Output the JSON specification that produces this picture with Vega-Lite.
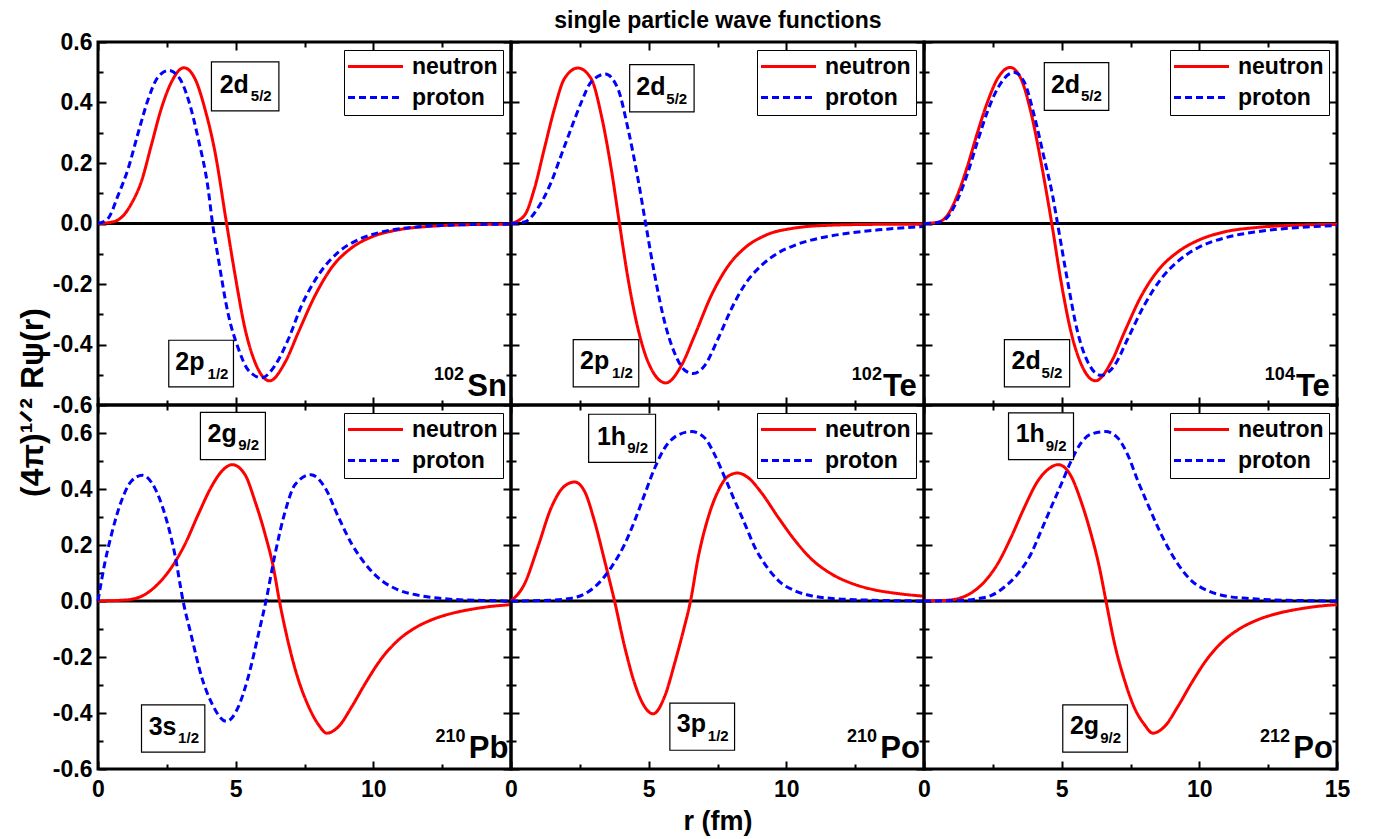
{
"$schema": "https://vega.github.io/schema/vega-lite/v6.json",
"background": "white",
"autosize": {"type": "pad"},
"padding": {"left": 14, "top": 9, "right": 5, "bottom": 5},
"title": {"text": "single particle wave functions", "fontSize": 23, "font": "Liberation Sans", "fontWeight": "bold", "color": "black", "anchor": "middle", "frame": "bounds", "offset": -3, "dx": 35},
"config": {
  "font": "Liberation Sans",
  "view": {"stroke": "black", "strokeWidth": 3},
  "axis": {"labelFont": "Liberation Sans", "labelFontWeight": "bold", "labelFontSize": 23, "labelColor": "black", "tickColor": "black", "tickWidth": 2, "domain": false, "grid": false, "minExtent": 0, "titleFont": "Liberation Sans", "titleFontWeight": "bold", "titleColor": "black", "labelFlush": false, "labelOverlap": false, "labelBound": false},
  "legend": {"orient": "top-right", "offset": 8, "title": null, "strokeColor": "black", "fillColor": "white", "padding": 5, "symbolType": "M-5.5,0H5.5", "symbolSize": 100, "symbolOffset": 15, "symbolStrokeWidth": 3, "labelFont": "Liberation Sans", "labelFontWeight": "bold", "labelFontSize": 23, "labelColor": "black", "labelOffset": 25, "rowPadding": 7}
},
"datasets": {
"curves": [
{"p":"Sn102","s":"neutron","r":0,"v":0},{"p":"Sn102","s":"neutron","r":0.4,"v":0.003},{"p":"Sn102","s":"neutron","r":0.73,"v":0.012},{"p":"Sn102","s":"neutron","r":1.0,"v":0.035},{"p":"Sn102","s":"neutron","r":1.21,"v":0.065},{"p":"Sn102","s":"neutron","r":1.58,"v":0.14},{"p":"Sn102","s":"neutron","r":1.94,"v":0.26},{"p":"Sn102","s":"neutron","r":2.3,"v":0.38},{"p":"Sn102","s":"neutron","r":2.67,"v":0.468},{"p":"Sn102","s":"neutron","r":3.12,"v":0.515},{"p":"Sn102","s":"neutron","r":3.52,"v":0.479},{"p":"Sn102","s":"neutron","r":3.88,"v":0.38},{"p":"Sn102","s":"neutron","r":4.25,"v":0.236},{"p":"Sn102","s":"neutron","r":4.67,"v":0},{"p":"Sn102","s":"neutron","r":4.98,"v":-0.171},{"p":"Sn102","s":"neutron","r":5.34,"v":-0.348},{"p":"Sn102","s":"neutron","r":5.7,"v":-0.458},{"p":"Sn102","s":"neutron","r":6.23,"v":-0.52},{"p":"Sn102","s":"neutron","r":6.8,"v":-0.458},{"p":"Sn102","s":"neutron","r":7.28,"v":-0.359},{"p":"Sn102","s":"neutron","r":7.89,"v":-0.237},{"p":"Sn102","s":"neutron","r":8.5,"v":-0.144},{"p":"Sn102","s":"neutron","r":9.22,"v":-0.08},{"p":"Sn102","s":"neutron","r":9.95,"v":-0.044},{"p":"Sn102","s":"neutron","r":10.9,"v":-0.021},{"p":"Sn102","s":"neutron","r":12.1,"v":-0.009},{"p":"Sn102","s":"neutron","r":13.35,"v":-0.004},{"p":"Sn102","s":"neutron","r":15,"v":-0.002},
{"p":"Sn102","s":"proton","r":0,"v":0},{"p":"Sn102","s":"proton","r":0.36,"v":0.016},{"p":"Sn102","s":"proton","r":0.73,"v":0.093},{"p":"Sn102","s":"proton","r":1.09,"v":0.18},{"p":"Sn102","s":"proton","r":1.46,"v":0.3},{"p":"Sn102","s":"proton","r":1.82,"v":0.41},{"p":"Sn102","s":"proton","r":2.18,"v":0.484},{"p":"Sn102","s":"proton","r":2.58,"v":0.506},{"p":"Sn102","s":"proton","r":2.97,"v":0.479},{"p":"Sn102","s":"proton","r":3.28,"v":0.41},{"p":"Sn102","s":"proton","r":3.64,"v":0.28},{"p":"Sn102","s":"proton","r":4.0,"v":0.115},{"p":"Sn102","s":"proton","r":4.16,"v":0},{"p":"Sn102","s":"proton","r":4.37,"v":-0.116},{"p":"Sn102","s":"proton","r":4.73,"v":-0.3},{"p":"Sn102","s":"proton","r":5.1,"v":-0.414},{"p":"Sn102","s":"proton","r":5.46,"v":-0.485},{"p":"Sn102","s":"proton","r":5.95,"v":-0.51},{"p":"Sn102","s":"proton","r":6.43,"v":-0.469},{"p":"Sn102","s":"proton","r":6.92,"v":-0.381},{"p":"Sn102","s":"proton","r":7.4,"v":-0.27},{"p":"Sn102","s":"proton","r":8.0,"v":-0.171},{"p":"Sn102","s":"proton","r":8.74,"v":-0.094},{"p":"Sn102","s":"proton","r":9.47,"v":-0.053},{"p":"Sn102","s":"proton","r":10.3,"v":-0.028},{"p":"Sn102","s":"proton","r":11.5,"v":-0.012},{"p":"Sn102","s":"proton","r":13.35,"v":-0.004},{"p":"Sn102","s":"proton","r":15,"v":-0.002},
{"p":"Te102","s":"neutron","r":0,"v":0},{"p":"Te102","s":"neutron","r":0.49,"v":0.027},{"p":"Te102","s":"neutron","r":0.85,"v":0.115},{"p":"Te102","s":"neutron","r":1.21,"v":0.247},{"p":"Te102","s":"neutron","r":1.58,"v":0.38},{"p":"Te102","s":"neutron","r":1.94,"v":0.479},{"p":"Te102","s":"neutron","r":2.43,"v":0.514},{"p":"Te102","s":"neutron","r":2.91,"v":0.479},{"p":"Te102","s":"neutron","r":3.28,"v":0.358},{"p":"Te102","s":"neutron","r":3.64,"v":0.181},{"p":"Te102","s":"neutron","r":3.94,"v":0},{"p":"Te102","s":"neutron","r":4.25,"v":-0.182},{"p":"Te102","s":"neutron","r":4.61,"v":-0.347},{"p":"Te102","s":"neutron","r":4.98,"v":-0.458},{"p":"Te102","s":"neutron","r":5.62,"v":-0.527},{"p":"Te102","s":"neutron","r":6.19,"v":-0.469},{"p":"Te102","s":"neutron","r":6.67,"v":-0.37},{"p":"Te102","s":"neutron","r":7.28,"v":-0.237},{"p":"Te102","s":"neutron","r":7.89,"v":-0.14},{"p":"Te102","s":"neutron","r":8.5,"v":-0.08},{"p":"Te102","s":"neutron","r":9.22,"v":-0.04},{"p":"Te102","s":"neutron","r":10.3,"v":-0.015},{"p":"Te102","s":"neutron","r":11.5,"v":-0.006},{"p":"Te102","s":"neutron","r":13,"v":-0.003},{"p":"Te102","s":"neutron","r":15,"v":-0.002},
{"p":"Te102","s":"proton","r":0,"v":0},{"p":"Te102","s":"proton","r":0.49,"v":0.005},{"p":"Te102","s":"proton","r":0.97,"v":0.05},{"p":"Te102","s":"proton","r":1.46,"v":0.137},{"p":"Te102","s":"proton","r":1.82,"v":0.225},{"p":"Te102","s":"proton","r":2.18,"v":0.313},{"p":"Te102","s":"proton","r":2.55,"v":0.4},{"p":"Te102","s":"proton","r":2.91,"v":0.468},{"p":"Te102","s":"proton","r":3.43,"v":0.494},{"p":"Te102","s":"proton","r":3.88,"v":0.446},{"p":"Te102","s":"proton","r":4.25,"v":0.313},{"p":"Te102","s":"proton","r":4.61,"v":0.148},{"p":"Te102","s":"proton","r":4.89,"v":0},{"p":"Te102","s":"proton","r":5.22,"v":-0.171},{"p":"Te102","s":"proton","r":5.58,"v":-0.326},{"p":"Te102","s":"proton","r":5.95,"v":-0.43},{"p":"Te102","s":"proton","r":6.31,"v":-0.485},{"p":"Te102","s":"proton","r":6.61,"v":-0.496},{"p":"Te102","s":"proton","r":7.04,"v":-0.469},{"p":"Te102","s":"proton","r":7.52,"v":-0.381},{"p":"Te102","s":"proton","r":8.01,"v":-0.281},{"p":"Te102","s":"proton","r":8.5,"v":-0.201},{"p":"Te102","s":"proton","r":9.1,"v":-0.138},{"p":"Te102","s":"proton","r":9.71,"v":-0.097},{"p":"Te102","s":"proton","r":10.3,"v":-0.072},{"p":"Te102","s":"proton","r":10.9,"v":-0.055},{"p":"Te102","s":"proton","r":11.5,"v":-0.043},{"p":"Te102","s":"proton","r":12.1,"v":-0.034},{"p":"Te102","s":"proton","r":13.35,"v":-0.021},{"p":"Te102","s":"proton","r":15,"v":-0.01},
{"p":"Te104","s":"neutron","r":0,"v":0},{"p":"Te104","s":"neutron","r":0.49,"v":0.004},{"p":"Te104","s":"neutron","r":0.85,"v":0.027},{"p":"Te104","s":"neutron","r":1.21,"v":0.093},{"p":"Te104","s":"neutron","r":1.58,"v":0.19},{"p":"Te104","s":"neutron","r":1.94,"v":0.3},{"p":"Te104","s":"neutron","r":2.3,"v":0.4},{"p":"Te104","s":"neutron","r":2.67,"v":0.479},{"p":"Te104","s":"neutron","r":3.13,"v":0.516},{"p":"Te104","s":"neutron","r":3.52,"v":0.479},{"p":"Te104","s":"neutron","r":3.88,"v":0.369},{"p":"Te104","s":"neutron","r":4.25,"v":0.203},{"p":"Te104","s":"neutron","r":4.64,"v":0},{"p":"Te104","s":"neutron","r":4.98,"v":-0.193},{"p":"Te104","s":"neutron","r":5.34,"v":-0.359},{"p":"Te104","s":"neutron","r":5.7,"v":-0.463},{"p":"Te104","s":"neutron","r":6.23,"v":-0.52},{"p":"Te104","s":"neutron","r":6.8,"v":-0.458},{"p":"Te104","s":"neutron","r":7.28,"v":-0.359},{"p":"Te104","s":"neutron","r":7.89,"v":-0.24},{"p":"Te104","s":"neutron","r":8.5,"v":-0.155},{"p":"Te104","s":"neutron","r":9.22,"v":-0.094},{"p":"Te104","s":"neutron","r":9.95,"v":-0.056},{"p":"Te104","s":"neutron","r":10.9,"v":-0.028},{"p":"Te104","s":"neutron","r":12.1,"v":-0.013},{"p":"Te104","s":"neutron","r":13.35,"v":-0.006},{"p":"Te104","s":"neutron","r":15,"v":-0.003},
{"p":"Te104","s":"proton","r":0,"v":0},{"p":"Te104","s":"proton","r":0.49,"v":0.003},{"p":"Te104","s":"proton","r":0.85,"v":0.021},{"p":"Te104","s":"proton","r":1.21,"v":0.077},{"p":"Te104","s":"proton","r":1.58,"v":0.165},{"p":"Te104","s":"proton","r":1.94,"v":0.27},{"p":"Te104","s":"proton","r":2.3,"v":0.369},{"p":"Te104","s":"proton","r":2.67,"v":0.446},{"p":"Te104","s":"proton","r":3.03,"v":0.49},{"p":"Te104","s":"proton","r":3.28,"v":0.499},{"p":"Te104","s":"proton","r":3.64,"v":0.468},{"p":"Te104","s":"proton","r":4.0,"v":0.358},{"p":"Te104","s":"proton","r":4.37,"v":0.214},{"p":"Te104","s":"proton","r":4.67,"v":0.093},{"p":"Te104","s":"proton","r":4.85,"v":0},{"p":"Te104","s":"proton","r":5.22,"v":-0.193},{"p":"Te104","s":"proton","r":5.58,"v":-0.359},{"p":"Te104","s":"proton","r":5.95,"v":-0.458},{"p":"Te104","s":"proton","r":6.43,"v":-0.502},{"p":"Te104","s":"proton","r":6.92,"v":-0.469},{"p":"Te104","s":"proton","r":7.4,"v":-0.381},{"p":"Te104","s":"proton","r":8.0,"v":-0.27},{"p":"Te104","s":"proton","r":8.62,"v":-0.182},{"p":"Te104","s":"proton","r":9.22,"v":-0.125},{"p":"Te104","s":"proton","r":9.95,"v":-0.08},{"p":"Te104","s":"proton","r":10.9,"v":-0.048},{"p":"Te104","s":"proton","r":12.1,"v":-0.027},{"p":"Te104","s":"proton","r":13.35,"v":-0.015},{"p":"Te104","s":"proton","r":15,"v":-0.007},
{"p":"Pb210","s":"neutron","r":0,"v":0},{"p":"Pb210","s":"neutron","r":0.73,"v":0.002},{"p":"Pb210","s":"neutron","r":1.21,"v":0.006},{"p":"Pb210","s":"neutron","r":1.7,"v":0.023},{"p":"Pb210","s":"neutron","r":2.18,"v":0.061},{"p":"Pb210","s":"neutron","r":2.67,"v":0.12},{"p":"Pb210","s":"neutron","r":3.16,"v":0.203},{"p":"Pb210","s":"neutron","r":3.64,"v":0.309},{"p":"Pb210","s":"neutron","r":4.13,"v":0.41},{"p":"Pb210","s":"neutron","r":4.49,"v":0.463},{"p":"Pb210","s":"neutron","r":4.88,"v":0.487},{"p":"Pb210","s":"neutron","r":5.34,"v":0.451},{"p":"Pb210","s":"neutron","r":5.7,"v":0.357},{"p":"Pb210","s":"neutron","r":6.07,"v":0.238},{"p":"Pb210","s":"neutron","r":6.37,"v":0.12},{"p":"Pb210","s":"neutron","r":6.59,"v":0},{"p":"Pb210","s":"neutron","r":6.92,"v":-0.152},{"p":"Pb210","s":"neutron","r":7.28,"v":-0.282},{"p":"Pb210","s":"neutron","r":7.65,"v":-0.377},{"p":"Pb210","s":"neutron","r":8.01,"v":-0.442},{"p":"Pb210","s":"neutron","r":8.31,"v":-0.472},{"p":"Pb210","s":"neutron","r":8.74,"v":-0.448},{"p":"Pb210","s":"neutron","r":9.22,"v":-0.377},{"p":"Pb210","s":"neutron","r":9.71,"v":-0.294},{"p":"Pb210","s":"neutron","r":10.3,"v":-0.205},{"p":"Pb210","s":"neutron","r":10.9,"v":-0.14},{"p":"Pb210","s":"neutron","r":11.5,"v":-0.097},{"p":"Pb210","s":"neutron","r":12.1,"v":-0.068},{"p":"Pb210","s":"neutron","r":12.9,"v":-0.043},{"p":"Pb210","s":"neutron","r":13.6,"v":-0.029},{"p":"Pb210","s":"neutron","r":14.3,"v":-0.019},{"p":"Pb210","s":"neutron","r":15,"v":-0.013},
{"p":"Pb210","s":"proton","r":0,"v":0},{"p":"Pb210","s":"proton","r":0.24,"v":0.132},{"p":"Pb210","s":"proton","r":0.49,"v":0.238},{"p":"Pb210","s":"proton","r":0.85,"v":0.357},{"p":"Pb210","s":"proton","r":1.21,"v":0.428},{"p":"Pb210","s":"proton","r":1.61,"v":0.449},{"p":"Pb210","s":"proton","r":2.06,"v":0.404},{"p":"Pb210","s":"proton","r":2.43,"v":0.309},{"p":"Pb210","s":"proton","r":2.79,"v":0.167},{"p":"Pb210","s":"proton","r":3.09,"v":0},{"p":"Pb210","s":"proton","r":3.4,"v":-0.128},{"p":"Pb210","s":"proton","r":3.76,"v":-0.27},{"p":"Pb210","s":"proton","r":4.13,"v":-0.365},{"p":"Pb210","s":"proton","r":4.67,"v":-0.43},{"p":"Pb210","s":"proton","r":5.1,"v":-0.377},{"p":"Pb210","s":"proton","r":5.46,"v":-0.27},{"p":"Pb210","s":"proton","r":5.83,"v":-0.117},{"p":"Pb210","s":"proton","r":6.1,"v":0},{"p":"Pb210","s":"proton","r":6.43,"v":0.167},{"p":"Pb210","s":"proton","r":6.8,"v":0.321},{"p":"Pb210","s":"proton","r":7.16,"v":0.416},{"p":"Pb210","s":"proton","r":7.73,"v":0.451},{"p":"Pb210","s":"proton","r":8.25,"v":0.404},{"p":"Pb210","s":"proton","r":8.74,"v":0.298},{"p":"Pb210","s":"proton","r":9.22,"v":0.203},{"p":"Pb210","s":"proton","r":9.71,"v":0.132},{"p":"Pb210","s":"proton","r":10.3,"v":0.073},{"p":"Pb210","s":"proton","r":10.9,"v":0.04},{"p":"Pb210","s":"proton","r":11.65,"v":0.02},{"p":"Pb210","s":"proton","r":12.7,"v":0.007},{"p":"Pb210","s":"proton","r":13.95,"v":0.002},{"p":"Pb210","s":"proton","r":15,"v":0},
{"p":"Po210","s":"neutron","r":0,"v":0},{"p":"Po210","s":"neutron","r":0.49,"v":0.061},{"p":"Po210","s":"neutron","r":0.97,"v":0.191},{"p":"Po210","s":"neutron","r":1.46,"v":0.333},{"p":"Po210","s":"neutron","r":1.94,"v":0.41},{"p":"Po210","s":"neutron","r":2.31,"v":0.425},{"p":"Po210","s":"neutron","r":2.67,"v":0.392},{"p":"Po210","s":"neutron","r":3.03,"v":0.286},{"p":"Po210","s":"neutron","r":3.4,"v":0.144},{"p":"Po210","s":"neutron","r":3.76,"v":0},{"p":"Po210","s":"neutron","r":4.13,"v":-0.164},{"p":"Po210","s":"neutron","r":4.49,"v":-0.294},{"p":"Po210","s":"neutron","r":4.85,"v":-0.377},{"p":"Po210","s":"neutron","r":5.16,"v":-0.403},{"p":"Po210","s":"neutron","r":5.58,"v":-0.341},{"p":"Po210","s":"neutron","r":5.95,"v":-0.22},{"p":"Po210","s":"neutron","r":6.25,"v":-0.11},{"p":"Po210","s":"neutron","r":6.52,"v":0},{"p":"Po210","s":"neutron","r":6.8,"v":0.156},{"p":"Po210","s":"neutron","r":7.16,"v":0.298},{"p":"Po210","s":"neutron","r":7.52,"v":0.392},{"p":"Po210","s":"neutron","r":7.89,"v":0.446},{"p":"Po210","s":"neutron","r":8.23,"v":0.457},{"p":"Po210","s":"neutron","r":8.62,"v":0.44},{"p":"Po210","s":"neutron","r":9.1,"v":0.386},{"p":"Po210","s":"neutron","r":9.71,"v":0.298},{"p":"Po210","s":"neutron","r":10.3,"v":0.218},{"p":"Po210","s":"neutron","r":10.9,"v":0.151},{"p":"Po210","s":"neutron","r":11.65,"v":0.096},{"p":"Po210","s":"neutron","r":12.4,"v":0.062},{"p":"Po210","s":"neutron","r":13.1,"v":0.042},{"p":"Po210","s":"neutron","r":14.1,"v":0.026},{"p":"Po210","s":"neutron","r":15,"v":0.017},
{"p":"Po210","s":"proton","r":0,"v":0},{"p":"Po210","s":"proton","r":1.21,"v":0.002},{"p":"Po210","s":"proton","r":2.06,"v":0.008},{"p":"Po210","s":"proton","r":2.67,"v":0.025},{"p":"Po210","s":"proton","r":3.16,"v":0.061},{"p":"Po210","s":"proton","r":3.64,"v":0.12},{"p":"Po210","s":"proton","r":4.13,"v":0.203},{"p":"Po210","s":"proton","r":4.49,"v":0.286},{"p":"Po210","s":"proton","r":4.85,"v":0.38},{"p":"Po210","s":"proton","r":5.22,"v":0.475},{"p":"Po210","s":"proton","r":5.58,"v":0.546},{"p":"Po210","s":"proton","r":6.07,"v":0.593},{"p":"Po210","s":"proton","r":6.55,"v":0.605},{"p":"Po210","s":"proton","r":7.04,"v":0.582},{"p":"Po210","s":"proton","r":7.4,"v":0.522},{"p":"Po210","s":"proton","r":7.77,"v":0.44},{"p":"Po210","s":"proton","r":8.13,"v":0.357},{"p":"Po210","s":"proton","r":8.5,"v":0.274},{"p":"Po210","s":"proton","r":8.86,"v":0.191},{"p":"Po210","s":"proton","r":9.22,"v":0.132},{"p":"Po210","s":"proton","r":9.71,"v":0.073},{"p":"Po210","s":"proton","r":10.3,"v":0.037},{"p":"Po210","s":"proton","r":10.9,"v":0.019},{"p":"Po210","s":"proton","r":11.8,"v":0.008},{"p":"Po210","s":"proton","r":12.7,"v":0.004},{"p":"Po210","s":"proton","r":15,"v":0},
{"p":"Po212","s":"neutron","r":0,"v":0},{"p":"Po212","s":"neutron","r":0.73,"v":0.002},{"p":"Po212","s":"neutron","r":1.21,"v":0.008},{"p":"Po212","s":"neutron","r":1.7,"v":0.028},{"p":"Po212","s":"neutron","r":2.18,"v":0.067},{"p":"Po212","s":"neutron","r":2.67,"v":0.132},{"p":"Po212","s":"neutron","r":3.16,"v":0.227},{"p":"Po212","s":"neutron","r":3.64,"v":0.333},{"p":"Po212","s":"neutron","r":4.13,"v":0.428},{"p":"Po212","s":"neutron","r":4.49,"v":0.469},{"p":"Po212","s":"neutron","r":4.88,"v":0.487},{"p":"Po212","s":"neutron","r":5.34,"v":0.446},{"p":"Po212","s":"neutron","r":5.7,"v":0.357},{"p":"Po212","s":"neutron","r":6.07,"v":0.238},{"p":"Po212","s":"neutron","r":6.37,"v":0.12},{"p":"Po212","s":"neutron","r":6.61,"v":0},{"p":"Po212","s":"neutron","r":6.92,"v":-0.152},{"p":"Po212","s":"neutron","r":7.28,"v":-0.282},{"p":"Po212","s":"neutron","r":7.65,"v":-0.383},{"p":"Po212","s":"neutron","r":8.01,"v":-0.442},{"p":"Po212","s":"neutron","r":8.31,"v":-0.472},{"p":"Po212","s":"neutron","r":8.74,"v":-0.448},{"p":"Po212","s":"neutron","r":9.22,"v":-0.377},{"p":"Po212","s":"neutron","r":9.71,"v":-0.294},{"p":"Po212","s":"neutron","r":10.3,"v":-0.205},{"p":"Po212","s":"neutron","r":10.9,"v":-0.14},{"p":"Po212","s":"neutron","r":11.5,"v":-0.097},{"p":"Po212","s":"neutron","r":12.1,"v":-0.068},{"p":"Po212","s":"neutron","r":12.9,"v":-0.043},{"p":"Po212","s":"neutron","r":13.6,"v":-0.029},{"p":"Po212","s":"neutron","r":14.3,"v":-0.019},{"p":"Po212","s":"neutron","r":15,"v":-0.013},
{"p":"Po212","s":"proton","r":0,"v":0},{"p":"Po212","s":"proton","r":1.21,"v":0.002},{"p":"Po212","s":"proton","r":1.94,"v":0.008},{"p":"Po212","s":"proton","r":2.43,"v":0.019},{"p":"Po212","s":"proton","r":2.91,"v":0.049},{"p":"Po212","s":"proton","r":3.4,"v":0.096},{"p":"Po212","s":"proton","r":3.88,"v":0.167},{"p":"Po212","s":"proton","r":4.25,"v":0.25},{"p":"Po212","s":"proton","r":4.61,"v":0.333},{"p":"Po212","s":"proton","r":4.98,"v":0.416},{"p":"Po212","s":"proton","r":5.34,"v":0.499},{"p":"Po212","s":"proton","r":5.7,"v":0.564},{"p":"Po212","s":"proton","r":6.07,"v":0.596},{"p":"Po212","s":"proton","r":6.59,"v":0.605},{"p":"Po212","s":"proton","r":7.04,"v":0.582},{"p":"Po212","s":"proton","r":7.4,"v":0.522},{"p":"Po212","s":"proton","r":7.77,"v":0.428},{"p":"Po212","s":"proton","r":8.13,"v":0.345},{"p":"Po212","s":"proton","r":8.5,"v":0.262},{"p":"Po212","s":"proton","r":8.86,"v":0.191},{"p":"Po212","s":"proton","r":9.22,"v":0.132},{"p":"Po212","s":"proton","r":9.71,"v":0.073},{"p":"Po212","s":"proton","r":10.3,"v":0.037},{"p":"Po212","s":"proton","r":10.9,"v":0.019},{"p":"Po212","s":"proton","r":11.8,"v":0.009},{"p":"Po212","s":"proton","r":12.7,"v":0.004},{"p":"Po212","s":"proton","r":15,"v":0}
],
"boxes": [
{"p":"Sn102","r1":4.12,"r2":6.57,"v1":0.372,"v2":0.534},{"p":"Sn102","r1":2.57,"r2":4.92,"v1":-0.54,"v2":-0.386},
{"p":"Te102","r1":4.31,"r2":6.65,"v1":0.369,"v2":0.525},{"p":"Te102","r1":2.26,"r2":4.64,"v1":-0.54,"v2":-0.384},
{"p":"Te104","r1":4.37,"r2":6.71,"v1":0.374,"v2":0.532},{"p":"Te104","r1":2.92,"r2":5.29,"v1":-0.54,"v2":-0.384},
{"p":"Pb210","r1":3.72,"r2":6.08,"v1":0.505,"v2":0.674},{"p":"Pb210","r1":1.58,"r2":3.88,"v1":-0.54,"v2":-0.371},
{"p":"Po210","r1":2.82,"r2":5.25,"v1":0.495,"v2":0.667},{"p":"Po210","r1":5.77,"r2":8.12,"v1":-0.533,"v2":-0.365},
{"p":"Po212","r1":3.07,"r2":5.43,"v1":0.505,"v2":0.672},{"p":"Po212","r1":5.04,"r2":7.39,"v1":-0.54,"v2":-0.371}
],
"ann": [
{"p":"Sn102","k":"orb","t":"2d","r":4.42,"v":0.433},{"p":"Sn102","k":"sub","t":"5/2","r":5.55,"v":0.404},{"p":"Sn102","k":"orb","t":"2p","r":2.81,"v":-0.485},{"p":"Sn102","k":"sub","t":"1/2","r":3.98,"v":-0.513},{"p":"Sn102","k":"mass","t":"102","r":12.2,"v":-0.518},{"p":"Sn102","k":"nuc","t":"Sn","r":13.41,"v":-0.57},
{"p":"Te102","k":"orb","t":"2d","r":4.55,"v":0.426},{"p":"Te102","k":"sub","t":"5/2","r":5.64,"v":0.396},{"p":"Te102","k":"orb","t":"2p","r":2.51,"v":-0.482},{"p":"Te102","k":"sub","t":"1/2","r":3.67,"v":-0.511},{"p":"Te102","k":"mass","t":"102","r":12.38,"v":-0.518},{"p":"Te102","k":"nuc","t":"Te","r":13.51,"v":-0.57},
{"p":"Te104","k":"orb","t":"2d","r":4.61,"v":0.433},{"p":"Te104","k":"sub","t":"5/2","r":5.7,"v":0.404},{"p":"Te104","k":"orb","t":"2d","r":3.18,"v":-0.482},{"p":"Te104","k":"sub","t":"5/2","r":4.27,"v":-0.511},{"p":"Te104","k":"mass","t":"104","r":12.38,"v":-0.518},{"p":"Te104","k":"nuc","t":"Te","r":13.51,"v":-0.57},
{"p":"Pb210","k":"orb","t":"2g","r":3.98,"v":0.567},{"p":"Pb210","k":"sub","t":"9/2","r":5.09,"v":0.538},{"p":"Pb210","k":"orb","t":"3s","r":1.84,"v":-0.478},{"p":"Pb210","k":"sub","t":"1/2","r":2.91,"v":-0.507},{"p":"Pb210","k":"mass","t":"210","r":12.26,"v":-0.505},{"p":"Pb210","k":"nuc","t":"Pb","r":13.47,"v":-0.56},
{"p":"Po210","k":"orb","t":"1h","r":3.12,"v":0.558},{"p":"Po210","k":"sub","t":"9/2","r":4.22,"v":0.528},{"p":"Po210","k":"orb","t":"3p","r":6.02,"v":-0.469},{"p":"Po210","k":"sub","t":"1/2","r":7.15,"v":-0.501},{"p":"Po210","k":"mass","t":"210","r":12.2,"v":-0.505},{"p":"Po210","k":"nuc","t":"Po","r":13.41,"v":-0.56},
{"p":"Po212","k":"orb","t":"1h","r":3.33,"v":0.567},{"p":"Po212","k":"sub","t":"9/2","r":4.42,"v":0.537},{"p":"Po212","k":"orb","t":"2g","r":5.3,"v":-0.475},{"p":"Po212","k":"sub","t":"9/2","r":6.4,"v":-0.507},{"p":"Po212","k":"mass","t":"212","r":12.2,"v":-0.505},{"p":"Po212","k":"nuc","t":"Po","r":13.41,"v":-0.56}
]
},
"columns": 3,
"bounds": "flush",
"spacing": 0,
"resolve": {"legend": {"color": "independent", "strokeDash": "independent"}},
"concat": [
 {"width": 413, "height": 363, "resolve": {"axis": {"x": "independent", "y": "independent"}}, "layer": [
  {"data": {"values": [{}]}, "mark": {"type": "rule", "color": "black", "strokeWidth": 3}, "encoding": {"y": {"datum": 0, "type": "quantitative", "scale": {"domain": [-0.6, 0.6], "nice": false, "zero": false}, "axis": null}}},
  {"data": {"name": "curves"}, "transform": [{"filter": "datum.p == 'Sn102'"}], "mark": {"type": "line", "strokeWidth": 3, "interpolate": "monotone"}, "encoding": {
    "x": {"field": "r", "type": "quantitative", "scale": {"domain": [0, 15], "nice": false, "zero": false}, "axis": {"orient": "bottom", "values": [0, 2.5, 5, 7.5, 10, 12.5], "labels": false, "tickSize": {"condition": {"test": "datum.value % 5 == 0", "value": -8}, "value": -5}, "title": null}},
    "y": {"field": "v", "type": "quantitative", "scale": {"domain": [-0.6, 0.6], "nice": false, "zero": false}, "axis": {"orient": "left", "values": [-0.6, -0.5, -0.4, -0.3, -0.2, -0.1, 0, 0.1, 0.2, 0.3, 0.4, 0.5, 0.6], "labelExpr": "abs(round(datum.value*10)) % 2 == 0 ? replace(format(datum.value, '.1f'), '\u2212', '-') : ''", "tickSize": {"condition": {"test": "abs(round(datum.value*10)) % 2 == 0", "value": -8}, "value": -5}, "labelPadding": 14, "title": null}},
    "color": {"field": "s", "type": "nominal", "scale": {"domain": ["neutron", "proton"], "range": ["#ff0000", "#0000ff"]}},
    "strokeDash": {"field": "s", "type": "nominal", "scale": {"domain": ["neutron", "proton"], "range": [[1, 0], [7, 4]]}}}},
  {"data": {"name": "boxes"}, "transform": [{"filter": "datum.p == 'Sn102'"}], "mark": {"type": "rect", "fill": "white", "stroke": "black", "strokeWidth": 1.2}, "encoding": {
    "x": {"field": "r1", "type": "quantitative", "scale": {"domain": [0, 15], "nice": false, "zero": false}, "axis": {"orient": "top", "values": [0, 2.5, 5, 7.5, 10, 12.5], "labels": false, "tickSize": {"condition": {"test": "datum.value % 5 == 0", "value": -8}, "value": -5}, "title": null}},
    "x2": {"field": "r2"},
    "y": {"field": "v1", "type": "quantitative", "scale": {"domain": [-0.6, 0.6], "nice": false, "zero": false}, "axis": {"orient": "right", "values": [-0.6, -0.5, -0.4, -0.3, -0.2, -0.1, 0, 0.1, 0.2, 0.3, 0.4, 0.5, 0.6], "labels": false, "tickSize": {"condition": {"test": "abs(round(datum.value*10)) % 2 == 0", "value": -8}, "value": -5}, "title": null}},
    "y2": {"field": "v2"}}},
  {"data": {"name": "ann"}, "transform": [{"filter": "datum.p == 'Sn102'"}], "mark": {"type": "text", "align": "left", "baseline": "alphabetic", "font": "Liberation Sans", "fontWeight": "bold", "color": "black"}, "encoding": {
    "x": {"field": "r", "type": "quantitative", "scale": {"domain": [0, 15], "nice": false, "zero": false}, "axis": null},
    "y": {"field": "v", "type": "quantitative", "scale": {"domain": [-0.6, 0.6], "nice": false, "zero": false}, "axis": null},
    "text": {"field": "t"},
    "size": {"field": "k", "type": "nominal", "scale": {"type": "ordinal", "domain": ["orb", "sub", "mass", "nuc"], "range": [25, 15, 18, 31]}, "legend": null}}}
 ]},
 {"width": 413, "height": 363, "resolve": {"axis": {"x": "independent", "y": "independent"}}, "layer": [
  {"data": {"values": [{}]}, "mark": {"type": "rule", "color": "black", "strokeWidth": 3}, "encoding": {"y": {"datum": 0, "type": "quantitative", "scale": {"domain": [-0.6, 0.6], "nice": false, "zero": false}, "axis": null}}},
  {"data": {"name": "curves"}, "transform": [{"filter": "datum.p == 'Te102'"}], "mark": {"type": "line", "strokeWidth": 3, "interpolate": "monotone"}, "encoding": {
    "x": {"field": "r", "type": "quantitative", "scale": {"domain": [0, 15], "nice": false, "zero": false}, "axis": {"orient": "bottom", "values": [0, 2.5, 5, 7.5, 10, 12.5], "labels": false, "tickSize": {"condition": {"test": "datum.value % 5 == 0", "value": -8}, "value": -5}, "title": null}},
    "y": {"field": "v", "type": "quantitative", "scale": {"domain": [-0.6, 0.6], "nice": false, "zero": false}, "axis": {"orient": "left", "values": [-0.6, -0.5, -0.4, -0.3, -0.2, -0.1, 0, 0.1, 0.2, 0.3, 0.4, 0.5, 0.6], "labels": false, "tickSize": {"condition": {"test": "abs(round(datum.value*10)) % 2 == 0", "value": -8}, "value": -5}, "title": null}},
    "color": {"field": "s", "type": "nominal", "scale": {"domain": ["neutron", "proton"], "range": ["#ff0000", "#0000ff"]}},
    "strokeDash": {"field": "s", "type": "nominal", "scale": {"domain": ["neutron", "proton"], "range": [[1, 0], [7, 4]]}}}},
  {"data": {"name": "boxes"}, "transform": [{"filter": "datum.p == 'Te102'"}], "mark": {"type": "rect", "fill": "white", "stroke": "black", "strokeWidth": 1.2}, "encoding": {
    "x": {"field": "r1", "type": "quantitative", "scale": {"domain": [0, 15], "nice": false, "zero": false}, "axis": {"orient": "top", "values": [0, 2.5, 5, 7.5, 10, 12.5], "labels": false, "tickSize": {"condition": {"test": "datum.value % 5 == 0", "value": -8}, "value": -5}, "title": null}},
    "x2": {"field": "r2"},
    "y": {"field": "v1", "type": "quantitative", "scale": {"domain": [-0.6, 0.6], "nice": false, "zero": false}, "axis": {"orient": "right", "values": [-0.6, -0.5, -0.4, -0.3, -0.2, -0.1, 0, 0.1, 0.2, 0.3, 0.4, 0.5, 0.6], "labels": false, "tickSize": {"condition": {"test": "abs(round(datum.value*10)) % 2 == 0", "value": -8}, "value": -5}, "title": null}},
    "y2": {"field": "v2"}}},
  {"data": {"name": "ann"}, "transform": [{"filter": "datum.p == 'Te102'"}], "mark": {"type": "text", "align": "left", "baseline": "alphabetic", "font": "Liberation Sans", "fontWeight": "bold", "color": "black"}, "encoding": {
    "x": {"field": "r", "type": "quantitative", "scale": {"domain": [0, 15], "nice": false, "zero": false}, "axis": null},
    "y": {"field": "v", "type": "quantitative", "scale": {"domain": [-0.6, 0.6], "nice": false, "zero": false}, "axis": null},
    "text": {"field": "t"},
    "size": {"field": "k", "type": "nominal", "scale": {"type": "ordinal", "domain": ["orb", "sub", "mass", "nuc"], "range": [25, 15, 18, 31]}, "legend": null}}}
 ]},
 {"width": 413, "height": 363, "resolve": {"axis": {"x": "independent", "y": "independent"}}, "layer": [
  {"data": {"values": [{}]}, "mark": {"type": "rule", "color": "black", "strokeWidth": 3}, "encoding": {"y": {"datum": 0, "type": "quantitative", "scale": {"domain": [-0.6, 0.6], "nice": false, "zero": false}, "axis": null}}},
  {"data": {"name": "curves"}, "transform": [{"filter": "datum.p == 'Te104'"}], "mark": {"type": "line", "strokeWidth": 3, "interpolate": "monotone"}, "encoding": {
    "x": {"field": "r", "type": "quantitative", "scale": {"domain": [0, 15], "nice": false, "zero": false}, "axis": {"orient": "bottom", "values": [0, 2.5, 5, 7.5, 10, 12.5, 15], "labels": false, "tickSize": {"condition": {"test": "datum.value % 5 == 0", "value": -8}, "value": -5}, "title": null}},
    "y": {"field": "v", "type": "quantitative", "scale": {"domain": [-0.6, 0.6], "nice": false, "zero": false}, "axis": {"orient": "left", "values": [-0.6, -0.5, -0.4, -0.3, -0.2, -0.1, 0, 0.1, 0.2, 0.3, 0.4, 0.5, 0.6], "labels": false, "tickSize": {"condition": {"test": "abs(round(datum.value*10)) % 2 == 0", "value": -8}, "value": -5}, "title": null}},
    "color": {"field": "s", "type": "nominal", "scale": {"domain": ["neutron", "proton"], "range": ["#ff0000", "#0000ff"]}},
    "strokeDash": {"field": "s", "type": "nominal", "scale": {"domain": ["neutron", "proton"], "range": [[1, 0], [7, 4]]}}}},
  {"data": {"name": "boxes"}, "transform": [{"filter": "datum.p == 'Te104'"}], "mark": {"type": "rect", "fill": "white", "stroke": "black", "strokeWidth": 1.2}, "encoding": {
    "x": {"field": "r1", "type": "quantitative", "scale": {"domain": [0, 15], "nice": false, "zero": false}, "axis": {"orient": "top", "values": [0, 2.5, 5, 7.5, 10, 12.5], "labels": false, "tickSize": {"condition": {"test": "datum.value % 5 == 0", "value": -8}, "value": -5}, "title": null}},
    "x2": {"field": "r2"},
    "y": {"field": "v1", "type": "quantitative", "scale": {"domain": [-0.6, 0.6], "nice": false, "zero": false}, "axis": {"orient": "right", "values": [-0.6, -0.5, -0.4, -0.3, -0.2, -0.1, 0, 0.1, 0.2, 0.3, 0.4, 0.5, 0.6], "labels": false, "tickSize": {"condition": {"test": "abs(round(datum.value*10)) % 2 == 0", "value": -8}, "value": -5}, "title": null}},
    "y2": {"field": "v2"}}},
  {"data": {"name": "ann"}, "transform": [{"filter": "datum.p == 'Te104'"}], "mark": {"type": "text", "align": "left", "baseline": "alphabetic", "font": "Liberation Sans", "fontWeight": "bold", "color": "black"}, "encoding": {
    "x": {"field": "r", "type": "quantitative", "scale": {"domain": [0, 15], "nice": false, "zero": false}, "axis": null},
    "y": {"field": "v", "type": "quantitative", "scale": {"domain": [-0.6, 0.6], "nice": false, "zero": false}, "axis": null},
    "text": {"field": "t"},
    "size": {"field": "k", "type": "nominal", "scale": {"type": "ordinal", "domain": ["orb", "sub", "mass", "nuc"], "range": [25, 15, 18, 31]}, "legend": null}}}
 ]},
 {"width": 413, "height": 364, "resolve": {"axis": {"x": "independent", "y": "independent"}}, "layer": [
  {"data": {"values": [{}]}, "mark": {"type": "rule", "color": "black", "strokeWidth": 3}, "encoding": {"y": {"datum": 0, "type": "quantitative", "scale": {"domain": [-0.6, 0.7], "nice": false, "zero": false}, "axis": null}}},
  {"data": {"name": "curves"}, "transform": [{"filter": "datum.p == 'Pb210'"}], "mark": {"type": "line", "strokeWidth": 3, "interpolate": "monotone"}, "encoding": {
    "x": {"field": "r", "type": "quantitative", "scale": {"domain": [0, 15], "nice": false, "zero": false}, "axis": {"orient": "bottom", "values": [0, 2.5, 5, 7.5, 10, 12.5], "labelExpr": "datum.value % 5 == 0 ? format(datum.value, 'd') : ''", "tickSize": {"condition": {"test": "datum.value % 5 == 0", "value": -8}, "value": -5}, "labelPadding": 17, "title": null}},
    "y": {"field": "v", "type": "quantitative", "scale": {"domain": [-0.6, 0.7], "nice": false, "zero": false}, "axis": {"orient": "left", "values": [-0.6, -0.5, -0.4, -0.3, -0.2, -0.1, 0, 0.1, 0.2, 0.3, 0.4, 0.5, 0.6], "labelExpr": "abs(round(datum.value*10)) % 2 == 0 ? replace(format(datum.value, '.1f'), '\u2212', '-') : ''", "tickSize": {"condition": {"test": "abs(round(datum.value*10)) % 2 == 0", "value": -8}, "value": -5}, "labelPadding": 14, "title": "(4\u03c0)\u00b9\u141f\u00b2 R\u03c8(r)", "titleFontSize": 32, "titleX": -66, "titleY": -3, "titleAngle": -90, "titleAlign": "center", "titleBaseline": "middle"}},
    "color": {"field": "s", "type": "nominal", "scale": {"domain": ["neutron", "proton"], "range": ["#ff0000", "#0000ff"]}},
    "strokeDash": {"field": "s", "type": "nominal", "scale": {"domain": ["neutron", "proton"], "range": [[1, 0], [7, 4]]}}}},
  {"data": {"name": "boxes"}, "transform": [{"filter": "datum.p == 'Pb210'"}], "mark": {"type": "rect", "fill": "white", "stroke": "black", "strokeWidth": 1.2}, "encoding": {
    "x": {"field": "r1", "type": "quantitative", "scale": {"domain": [0, 15], "nice": false, "zero": false}, "axis": {"orient": "top", "values": [0, 2.5, 5, 7.5, 10, 12.5], "labels": false, "tickSize": {"condition": {"test": "datum.value % 5 == 0", "value": -8}, "value": -5}, "title": null}},
    "x2": {"field": "r2"},
    "y": {"field": "v1", "type": "quantitative", "scale": {"domain": [-0.6, 0.7], "nice": false, "zero": false}, "axis": {"orient": "right", "values": [-0.6, -0.5, -0.4, -0.3, -0.2, -0.1, 0, 0.1, 0.2, 0.3, 0.4, 0.5, 0.6], "labels": false, "tickSize": {"condition": {"test": "abs(round(datum.value*10)) % 2 == 0", "value": -8}, "value": -5}, "title": null}},
    "y2": {"field": "v2"}}},
  {"data": {"name": "ann"}, "transform": [{"filter": "datum.p == 'Pb210'"}], "mark": {"type": "text", "align": "left", "baseline": "alphabetic", "font": "Liberation Sans", "fontWeight": "bold", "color": "black"}, "encoding": {
    "x": {"field": "r", "type": "quantitative", "scale": {"domain": [0, 15], "nice": false, "zero": false}, "axis": null},
    "y": {"field": "v", "type": "quantitative", "scale": {"domain": [-0.6, 0.7], "nice": false, "zero": false}, "axis": null},
    "text": {"field": "t"},
    "size": {"field": "k", "type": "nominal", "scale": {"type": "ordinal", "domain": ["orb", "sub", "mass", "nuc"], "range": [25, 15, 18, 31]}, "legend": null}}}
 ]},
 {"width": 413, "height": 364, "resolve": {"axis": {"x": "independent", "y": "independent"}}, "layer": [
  {"data": {"values": [{}]}, "mark": {"type": "rule", "color": "black", "strokeWidth": 3}, "encoding": {"y": {"datum": 0, "type": "quantitative", "scale": {"domain": [-0.6, 0.7], "nice": false, "zero": false}, "axis": null}}},
  {"data": {"name": "curves"}, "transform": [{"filter": "datum.p == 'Po210'"}], "mark": {"type": "line", "strokeWidth": 3, "interpolate": "monotone"}, "encoding": {
    "x": {"field": "r", "type": "quantitative", "scale": {"domain": [0, 15], "nice": false, "zero": false}, "axis": {"orient": "bottom", "values": [0, 2.5, 5, 7.5, 10, 12.5], "labelExpr": "datum.value % 5 == 0 ? format(datum.value, 'd') : ''", "tickSize": {"condition": {"test": "datum.value % 5 == 0", "value": -8}, "value": -5}, "labelPadding": 17, "title": "r (fm)", "titleFontSize": 27, "titlePadding": 4}},
    "y": {"field": "v", "type": "quantitative", "scale": {"domain": [-0.6, 0.7], "nice": false, "zero": false}, "axis": {"orient": "left", "values": [-0.6, -0.5, -0.4, -0.3, -0.2, -0.1, 0, 0.1, 0.2, 0.3, 0.4, 0.5, 0.6], "labels": false, "tickSize": {"condition": {"test": "abs(round(datum.value*10)) % 2 == 0", "value": -8}, "value": -5}, "title": null}},
    "color": {"field": "s", "type": "nominal", "scale": {"domain": ["neutron", "proton"], "range": ["#ff0000", "#0000ff"]}},
    "strokeDash": {"field": "s", "type": "nominal", "scale": {"domain": ["neutron", "proton"], "range": [[1, 0], [7, 4]]}}}},
  {"data": {"name": "boxes"}, "transform": [{"filter": "datum.p == 'Po210'"}], "mark": {"type": "rect", "fill": "white", "stroke": "black", "strokeWidth": 1.2}, "encoding": {
    "x": {"field": "r1", "type": "quantitative", "scale": {"domain": [0, 15], "nice": false, "zero": false}, "axis": {"orient": "top", "values": [0, 2.5, 5, 7.5, 10, 12.5], "labels": false, "tickSize": {"condition": {"test": "datum.value % 5 == 0", "value": -8}, "value": -5}, "title": null}},
    "x2": {"field": "r2"},
    "y": {"field": "v1", "type": "quantitative", "scale": {"domain": [-0.6, 0.7], "nice": false, "zero": false}, "axis": {"orient": "right", "values": [-0.6, -0.5, -0.4, -0.3, -0.2, -0.1, 0, 0.1, 0.2, 0.3, 0.4, 0.5, 0.6], "labels": false, "tickSize": {"condition": {"test": "abs(round(datum.value*10)) % 2 == 0", "value": -8}, "value": -5}, "title": null}},
    "y2": {"field": "v2"}}},
  {"data": {"name": "ann"}, "transform": [{"filter": "datum.p == 'Po210'"}], "mark": {"type": "text", "align": "left", "baseline": "alphabetic", "font": "Liberation Sans", "fontWeight": "bold", "color": "black"}, "encoding": {
    "x": {"field": "r", "type": "quantitative", "scale": {"domain": [0, 15], "nice": false, "zero": false}, "axis": null},
    "y": {"field": "v", "type": "quantitative", "scale": {"domain": [-0.6, 0.7], "nice": false, "zero": false}, "axis": null},
    "text": {"field": "t"},
    "size": {"field": "k", "type": "nominal", "scale": {"type": "ordinal", "domain": ["orb", "sub", "mass", "nuc"], "range": [25, 15, 18, 31]}, "legend": null}}}
 ]},
 {"width": 413, "height": 364, "resolve": {"axis": {"x": "independent", "y": "independent"}}, "layer": [
  {"data": {"values": [{}]}, "mark": {"type": "rule", "color": "black", "strokeWidth": 3}, "encoding": {"y": {"datum": 0, "type": "quantitative", "scale": {"domain": [-0.6, 0.7], "nice": false, "zero": false}, "axis": null}}},
  {"data": {"name": "curves"}, "transform": [{"filter": "datum.p == 'Po212'"}], "mark": {"type": "line", "strokeWidth": 3, "interpolate": "monotone"}, "encoding": {
    "x": {"field": "r", "type": "quantitative", "scale": {"domain": [0, 15], "nice": false, "zero": false}, "axis": {"orient": "bottom", "values": [0, 2.5, 5, 7.5, 10, 12.5, 15], "labelExpr": "datum.value % 5 == 0 ? format(datum.value, 'd') : ''", "tickSize": {"condition": {"test": "datum.value % 5 == 0", "value": -8}, "value": -5}, "labelPadding": 17, "title": null}},
    "y": {"field": "v", "type": "quantitative", "scale": {"domain": [-0.6, 0.7], "nice": false, "zero": false}, "axis": {"orient": "left", "values": [-0.6, -0.5, -0.4, -0.3, -0.2, -0.1, 0, 0.1, 0.2, 0.3, 0.4, 0.5, 0.6], "labels": false, "tickSize": {"condition": {"test": "abs(round(datum.value*10)) % 2 == 0", "value": -8}, "value": -5}, "title": null}},
    "color": {"field": "s", "type": "nominal", "scale": {"domain": ["neutron", "proton"], "range": ["#ff0000", "#0000ff"]}},
    "strokeDash": {"field": "s", "type": "nominal", "scale": {"domain": ["neutron", "proton"], "range": [[1, 0], [7, 4]]}}}},
  {"data": {"name": "boxes"}, "transform": [{"filter": "datum.p == 'Po212'"}], "mark": {"type": "rect", "fill": "white", "stroke": "black", "strokeWidth": 1.2}, "encoding": {
    "x": {"field": "r1", "type": "quantitative", "scale": {"domain": [0, 15], "nice": false, "zero": false}, "axis": {"orient": "top", "values": [0, 2.5, 5, 7.5, 10, 12.5], "labels": false, "tickSize": {"condition": {"test": "datum.value % 5 == 0", "value": -8}, "value": -5}, "title": null}},
    "x2": {"field": "r2"},
    "y": {"field": "v1", "type": "quantitative", "scale": {"domain": [-0.6, 0.7], "nice": false, "zero": false}, "axis": {"orient": "right", "values": [-0.6, -0.5, -0.4, -0.3, -0.2, -0.1, 0, 0.1, 0.2, 0.3, 0.4, 0.5, 0.6], "labels": false, "tickSize": {"condition": {"test": "abs(round(datum.value*10)) % 2 == 0", "value": -8}, "value": -5}, "title": null}},
    "y2": {"field": "v2"}}},
  {"data": {"name": "ann"}, "transform": [{"filter": "datum.p == 'Po212'"}], "mark": {"type": "text", "align": "left", "baseline": "alphabetic", "font": "Liberation Sans", "fontWeight": "bold", "color": "black"}, "encoding": {
    "x": {"field": "r", "type": "quantitative", "scale": {"domain": [0, 15], "nice": false, "zero": false}, "axis": null},
    "y": {"field": "v", "type": "quantitative", "scale": {"domain": [-0.6, 0.7], "nice": false, "zero": false}, "axis": null},
    "text": {"field": "t"},
    "size": {"field": "k", "type": "nominal", "scale": {"type": "ordinal", "domain": ["orb", "sub", "mass", "nuc"], "range": [25, 15, 18, 31]}, "legend": null}}}
 ]}
]
}
